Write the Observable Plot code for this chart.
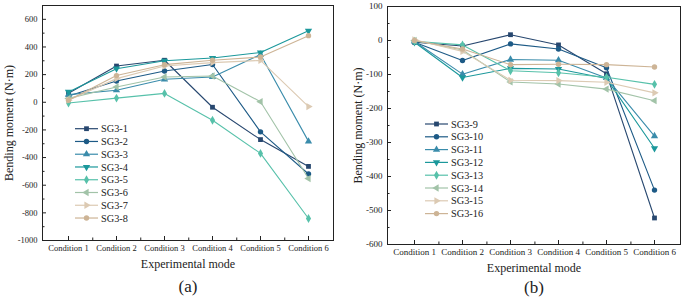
<!DOCTYPE html>
<html><head><meta charset="utf-8">
<script src="https://cdn.jsdelivr.net/npm/d3@7"></script>
<script src="https://cdn.jsdelivr.net/npm/@observablehq/plot@0.6"></script>
<style>
body{margin:0;background:#fff;}
#wrap{display:flex;width:685px;height:302px;overflow:hidden;}
#wrap svg{display:block;}
#wrap svg, #wrap svg text{font-family:'Liberation Serif','Times New Roman',Times,'DejaVu Serif',serif !important;}
</style></head><body><div id="wrap"></div>
<script>
const conditions = ["Condition 1","Condition 2","Condition 3","Condition 4","Condition 5","Condition 6"];

const namesA = ["SG3-1","SG3-2","SG3-3","SG3-4","SG3-5","SG3-6","SG3-7","SG3-8"];
const valuesA = [
  [65, 262, 304, -36, -270, -464],
  [45, 154, 226, 273, -214, -519],
  [55, 87, 166, 183, 345, -283],
  [75, 243, 300, 320, 360, 517],
  [-5, 30, 64, -130, -370, -841],
  [28, 111, 183, 190, 4, -552],
  [15, 171, 262, 287, 303, -31],
  [15, 193, 272, 304, 327, 482]
];

const namesB = ["SG3-9","SG3-10","SG3-11","SG3-12","SG3-13","SG3-14","SG3-15","SG3-16"];
const valuesB = [
  [-5, -16, 17, -13, -98, -522],
  [-5, -59, -10, -25, -80, -440],
  [-3, -99, -56, -58, -110, -281],
  [-5, -109, -82, -84, -112, -317],
  [-2, -13, -89, -95, -108, -129],
  [0, -28, -122, -128, -143, -177],
  [2, -32, -117, -118, -123, -154],
  [0, -25, -71, -70, -71, -78]
];

const colors = ["#27476f","#1d5a86","#3a8cab","#1b989b","#57c1aa","#a2c3a8","#dccab3","#cdb496"];

const yTicksA = [-1000,-800,-600,-400,-200,0,200,400,600];
const yMinorA = [-900,-700,-500,-300,-100,100,300,500];
const yTicksB = [-600,-500,-400,-300,-200,-100,0,100];
const yMinorB = [-550,-450,-350,-250,-150,-50,50];

const FONT = "'Liberation Serif','Times New Roman',Times,'DejaVu Serif',serif";

// custom triangle symbols (same area as d3.symbolTriangle)
const sq3 = Math.sqrt(3);
function tri(dir){
  return {draw(ctx, size){
    const t = Math.sqrt(size/(sq3*3));
    let pts;
    if (dir==="down") pts=[[0,2*t],[sq3*t,-t],[-sq3*t,-t]];
    else if (dir==="left") pts=[[-2*t,0],[t,-sq3*t],[t,sq3*t]];
    else pts=[[2*t,0],[-t,sq3*t],[-t,-sq3*t]];
    ctx.moveTo(pts[0][0],pts[0][1]);ctx.lineTo(pts[1][0],pts[1][1]);ctx.lineTo(pts[2][0],pts[2][1]);ctx.closePath();
  }};
}
const symbols = [d3.symbolSquare, d3.symbolCircle, d3.symbolTriangle, tri("down"), d3.symbolDiamond, tri("left"), tri("right"), d3.symbolCircle];
const R = 2.7;

function legendMark(names, x0, y0, step, fs){
  return () => {
    const g = d3.create("svg:g");
    names.forEach((n,i)=>{
      const y = y0 + i*step;
      g.append("line").attr("x1",x0).attr("x2",x0+23).attr("y1",y).attr("y2",y)
        .attr("stroke",colors[i]).attr("stroke-width",1.2);
      g.append("path").attr("d", d3.symbol(symbols[i], R*R*Math.PI)())
        .attr("transform",`translate(${x0+11.5},${y})`).attr("fill",colors[i]);
      g.append("text").attr("x",x0+26).attr("y",y).attr("dy","0.35em")
        .attr("text-anchor","start").attr("font-family",FONT)
        .attr("font-size",fs).attr("fill","#222").text(n);
    });
    return g.node();
  };
}

function panel(cfg){
  const {names, values, yDomain, yTicks, yMinor, width, ml, mr, mt, mb, fs, legend, yLabelDx, tag, tagDy} = cfg;
  const height = 302;
  const fw = width - ml - mr, fh = height - mt - mb;
  const marks = [];
  names.forEach((n,i)=>{
    const rows = conditions.map((c,j)=>({cond:c, value: values[i][j]}));
    marks.push(Plot.line(rows, {x:"cond", y:"value", stroke: colors[i], strokeWidth: 1.1}));
    marks.push(Plot.dot(rows, {x:"cond", y:"value", fill: colors[i], r: R, symbol: symbols[i]}));
  });
  marks.push(
    Plot.frame({stroke:"#222", strokeWidth:1}),
    Plot.ruleY(yTicks, {insetRight: fw-4, stroke:"#222"}),
    Plot.ruleY(yMinor, {insetRight: fw-2.5, stroke:"#222"}),
    Plot.ruleX(conditions, {insetTop: fh-4, stroke:"#222"}),
    Plot.ruleX(conditions.slice(0,-1), {dx: fw/12, insetTop: fh-2.5, stroke:"#222"}),
    Plot.axisY({ticks: yTicks, tickSize: 0, tickPadding: 5, tickFormat: d=>String(d), fontSize: fs, fontFamily: FONT, label: null}),
    Plot.axisX({tickSize: 0, tickPadding: 4, fontSize: fs, fontFamily: FONT, label: null}),
    Plot.text(["Experimental mode"], {frameAnchor:"bottom", dy: 27, text: d=>d, fontSize: 12, fontFamily: FONT, fill:"#222"}),
    Plot.text([tag], {frameAnchor:"bottom", dy: tagDy, text: d=>d, fontSize: 17, fontFamily: FONT, fill:"#222"}),
    Plot.text(["Bending moment (N\u00b7m)"], {frameAnchor:"left", rotate:-90, dx: yLabelDx, textAnchor:"middle", text: d=>d, fontSize: 12, fontFamily: FONT, fill:"#222"}),
    legendMark(names, legend[0], legend[1], legend[2], 10.3)
  );
  const svg = Plot.plot({
    width, height, marginLeft: ml, marginRight: mr, marginTop: mt, marginBottom: mb,
    style: {fontFamily: FONT, color:"#222", background:"#fff"},
    x: {type:"point", domain: conditions, padding: 0.5},
    y: {domain: yDomain},
    marks
  });
  svg.setAttribute("font-family", FONT);
  return svg;
}

const wrap = document.getElementById("wrap");
wrap.appendChild(panel({
  names: namesA, values: valuesA, yDomain: [-1000, 700], yTicks: yTicksA, yMinor: yMinorA,
  width: 342, ml: 42, mr: 9, mt: 5, mb: 62, fs: 8.5, legend: [75, 128.7, 12.76],
  yLabelDx: -33.5, tag: "(a)", tagDy: 51
}));
wrap.appendChild(panel({
  names: namesB, values: valuesB, yDomain: [-600, 100], yTicks: yTicksB, yMinor: yMinorB,
  width: 343, ml: 45, mr: 5, mt: 6, mb: 58, fs: 9, legend: [83, 124, 12.8],
  yLabelDx: -29.5, tag: "(b)", tagDy: 48
}));
</script></body></html>
